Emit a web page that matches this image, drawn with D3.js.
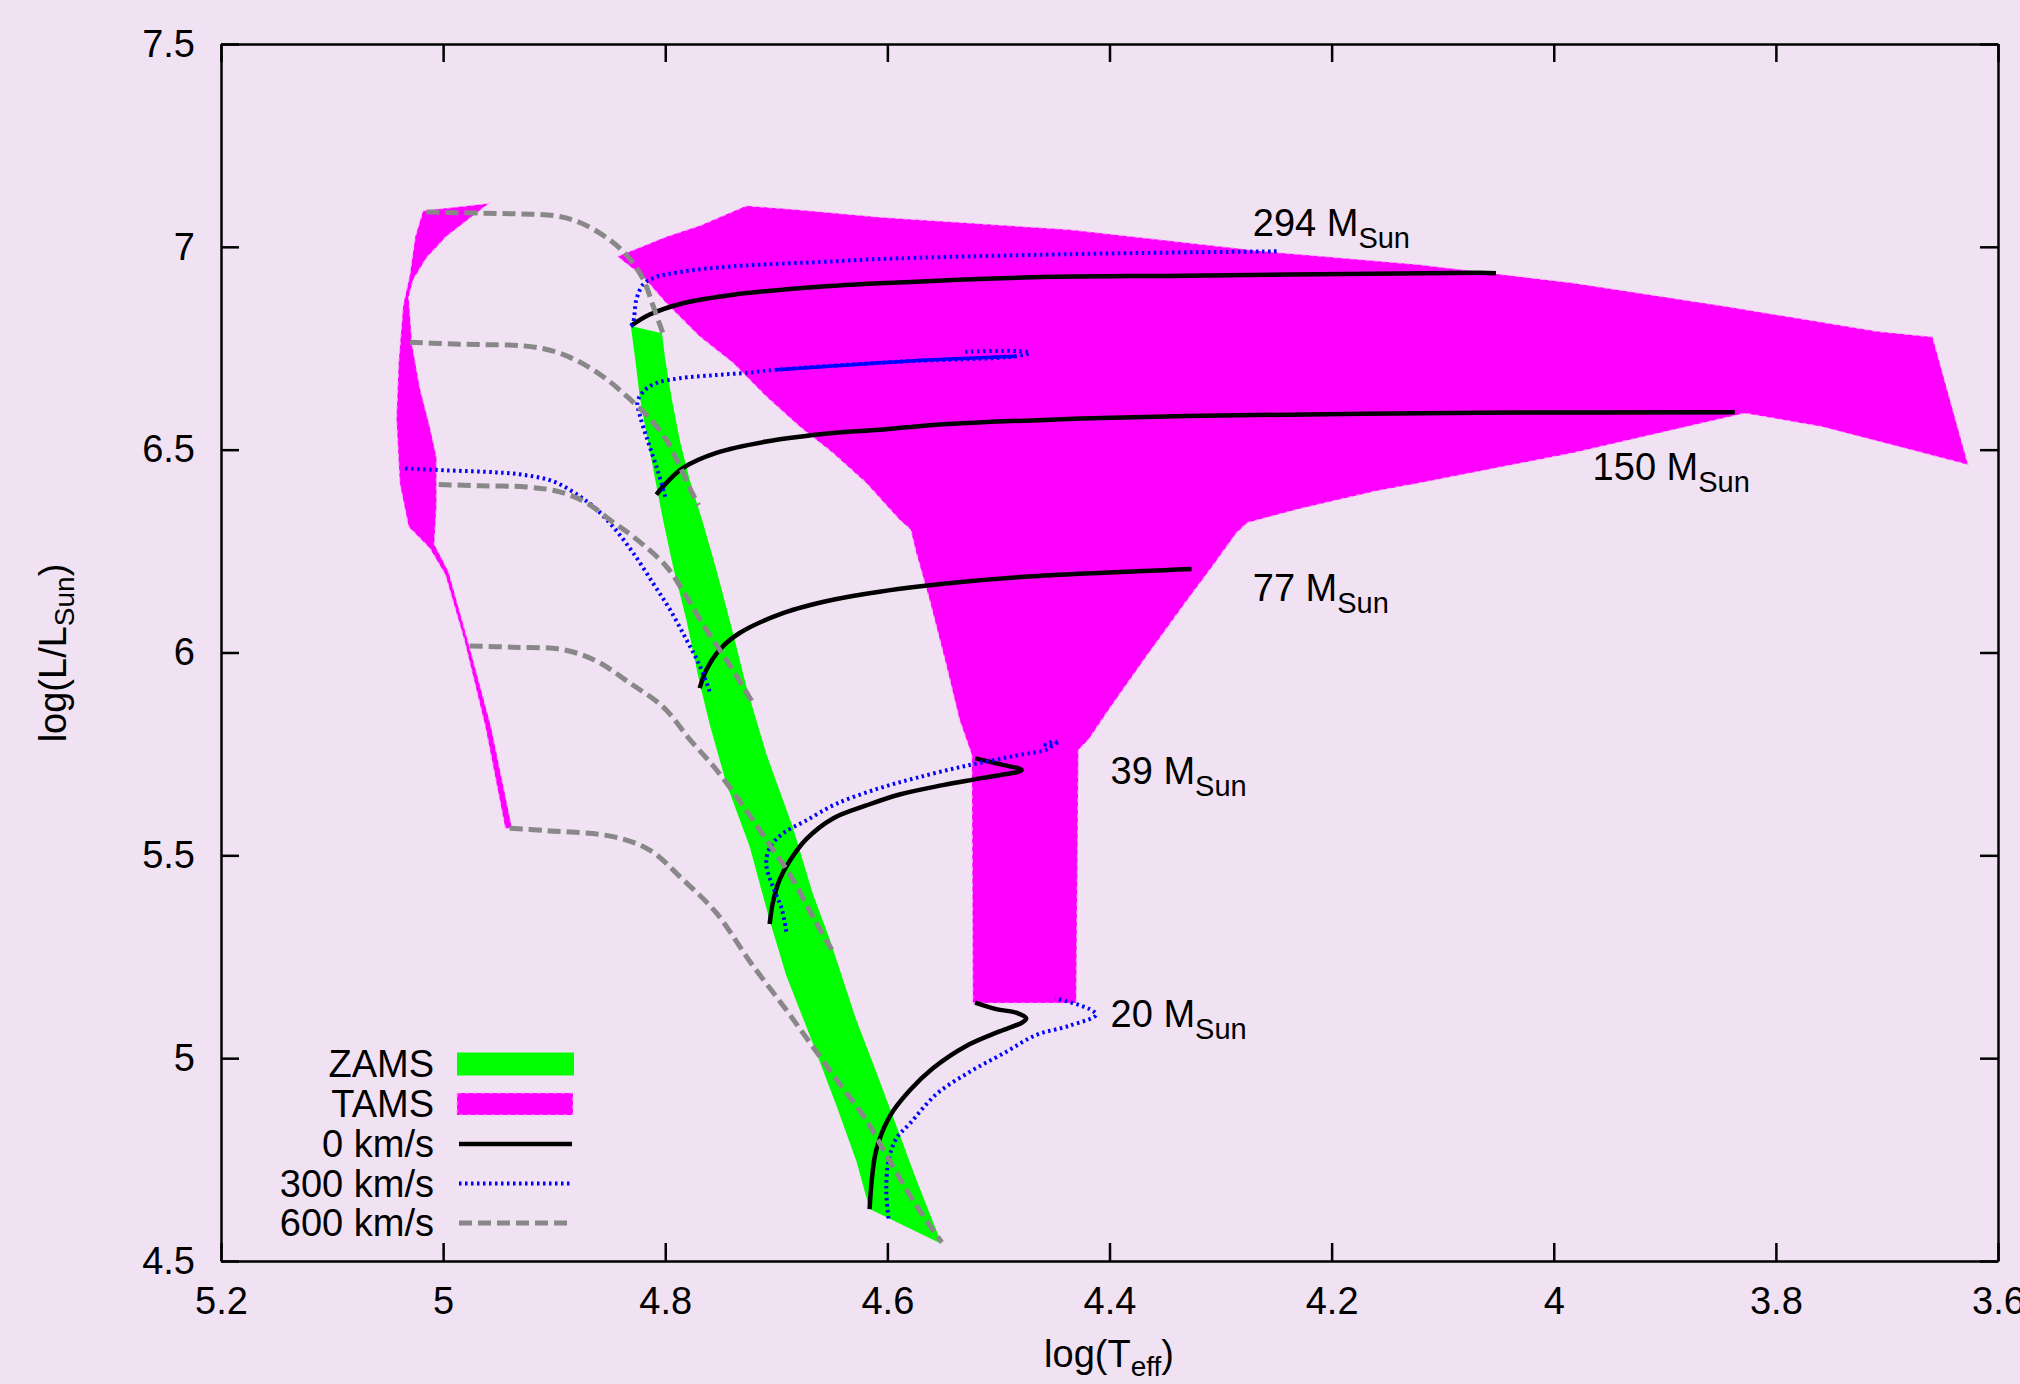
<!DOCTYPE html>
<html>
<head>
<meta charset="utf-8">
<script src="https://cdn.jsdelivr.net/npm/d3@7/dist/d3.min.js"></script>
<style>
body { margin: 0; background: #f0e2f2; }
svg { display: block; font-family: "Liberation Sans", Arial, Helvetica, sans-serif; }
</style>
</head>
<body>
<div id="hrd"></div>
<script>

// ---- data: [log Teff, log L/Lsun] ----
var xTicks = [5.2, 5.0, 4.8, 4.6, 4.4, 4.2, 4.0, 3.8, 3.6]
var yTicks = [4.5, 5.0, 5.5, 6.0, 6.5, 7.0, 7.5]

// ZAMS band: non-rotating edge and 600 km/s edge (top -> bottom)
var zamsSlow = [[4.831,6.805],[4.827,6.722],[4.823,6.631],[4.817,6.541],[4.809,6.426],[4.802,6.327],[4.793,6.212],
  [4.781,6.081],[4.769,5.925],[4.760,5.823],[4.745,5.677],[4.724,5.522],[4.706,5.340],[4.691,5.203],[4.670,5.057],
  [4.646,4.884],[4.628,4.747],[4.616,4.628]]
var zamsFast = [[4.803,6.787],[4.800,6.722],[4.794,6.623],[4.787,6.524],[4.778,6.426],[4.766,6.319],[4.754,6.204],
  [4.739,6.048],[4.727,5.916],[4.709,5.750],[4.685,5.568],[4.667,5.404],[4.652,5.294],[4.628,5.094],[4.610,4.966],
  [4.595,4.856],[4.574,4.701],[4.551,4.542]]

// TAMS regions (outlines)
var tamsMain = [[4.843,6.976],[4.828,6.993],[4.799,7.025],[4.769,7.052],[4.727,7.101],[4.679,7.091],[4.607,7.073],
  [4.435,7.042],[4.262,6.989],[4.121,6.956],[3.983,6.911],[3.845,6.853],[3.708,6.791],[3.659,6.778],[3.627,6.463],
  [3.673,6.496],[3.759,6.557],[3.828,6.590],[3.880,6.557],[3.983,6.492],[4.121,6.418],[4.159,6.399],[4.228,6.355],
  [4.276,6.320],[4.286,6.294],[4.307,6.214],[4.331,6.126],[4.366,5.994],[4.400,5.862],[4.419,5.785],[4.428,5.760],
  [4.430,5.136],[4.523,5.136],[4.524,5.748],[4.535,5.834],[4.547,5.970],[4.562,6.130],[4.574,6.246],[4.579,6.303],
  [4.589,6.327],[4.619,6.418],[4.649,6.492],[4.679,6.557],[4.709,6.631],[4.739,6.714],[4.769,6.779],[4.799,6.861],
  [4.820,6.927]]
var tamsFast = [[5.018,7.089],[4.959,7.107],[4.979,7.064],[4.997,7.026],[5.015,6.973],[5.027,6.919],[5.031,6.877],
  [5.028,6.759],[5.021,6.652],[5.012,6.556],[5.006,6.481],[5.006,6.363],[5.008,6.267],[4.995,6.198],[4.976,6.011],
  [4.957,5.818],[4.938,5.567],[4.944,5.567],[4.962,5.818],[4.981,6.032],[4.998,6.192],[5.012,6.257],[5.031,6.310],
  [5.039,6.417],[5.042,6.577],[5.040,6.716],[5.036,6.855],[5.030,6.930],[5.025,7.026]]

// evolutionary tracks, 0 km/s
var v0_294 = [[4.831,6.805],[4.814,6.833],[4.784,6.861],[4.739,6.882],[4.679,6.898],[4.607,6.910],[4.454,6.926],
  [4.331,6.929],[4.067,6.936],[4.052,6.935]]
var v0_150 = [[4.808,6.389],[4.799,6.418],[4.784,6.455],[4.754,6.492],[4.709,6.520],[4.649,6.541],[4.607,6.549],
  [4.559,6.561],[4.454,6.574],[4.331,6.583],[4.067,6.591],[3.837,6.592]]
var v0_77 = [[4.769,5.912],[4.763,5.957],[4.751,6.007],[4.733,6.048],[4.694,6.097],[4.649,6.130],[4.607,6.150],
  [4.529,6.175],[4.469,6.188],[4.326,6.206]]
var v0_39 = [[4.706,5.331],[4.703,5.385],[4.697,5.440],[4.688,5.486],[4.673,5.540],[4.649,5.591],[4.619,5.623],
  [4.589,5.650],[4.550,5.673],[4.514,5.691],[4.479,5.710],[4.499,5.725],[4.521,5.739]]
var v0_20 = [[4.616,4.628],[4.614,4.701],[4.610,4.774],[4.598,4.856],[4.580,4.920],[4.559,4.975],[4.529,5.030],
  [4.499,5.066],[4.478,5.089],[4.475,5.098],[4.484,5.112],[4.502,5.121],[4.521,5.137]]

// 300 km/s
var v300_294 = [[4.831,6.805],[4.829,6.812],[4.826,6.870],[4.820,6.907],[4.811,6.923],[4.784,6.939],[4.739,6.952],
  [4.649,6.964],[4.607,6.970],[4.435,6.982],[4.247,6.989]]
var v300_150 = [[4.800,6.384],[4.807,6.450],[4.816,6.524],[4.823,6.586],[4.825,6.618],[4.818,6.648],[4.807,6.665],
  [4.787,6.676],[4.754,6.684],[4.724,6.690],[4.700,6.697],[4.589,6.717],[4.484,6.730],[4.472,6.739],[4.481,6.743],
  [4.533,6.741]]
var v300_77 = [[4.760,5.904],[4.769,5.968],[4.781,6.032],[4.796,6.107],[4.811,6.171],[4.829,6.246],[4.847,6.310],
  [4.862,6.353],[4.877,6.385],[4.901,6.422],[4.928,6.438],[4.952,6.444],[4.997,6.449],[5.037,6.454]]
var v300_39 = [[4.691,5.312],[4.695,5.367],[4.703,5.422],[4.709,5.477],[4.706,5.518],[4.694,5.554],[4.673,5.586],
  [4.646,5.627],[4.610,5.663],[4.574,5.691],[4.529,5.721],[4.484,5.746],[4.454,5.764],[4.449,5.782],[4.458,5.772],
  [4.446,5.778]]
var v300_20 = [[4.599,4.605],[4.601,4.674],[4.599,4.747],[4.592,4.802],[4.580,4.838],[4.556,4.911],[4.526,4.966],
  [4.496,5.011],[4.466,5.057],[4.436,5.080],[4.412,5.107],[4.418,5.121],[4.449,5.148]]

// 600 km/s
var v600_294 = [[5.015,7.086],[4.967,7.083],[4.931,7.081],[4.898,7.076],[4.877,7.060],[4.853,7.023],[4.835,6.980],
  [4.820,6.921],[4.811,6.855],[4.802,6.786]]
var v600_150 = [[5.030,6.765],[4.997,6.761],[4.967,6.759],[4.928,6.756],[4.901,6.743],[4.877,6.716],[4.853,6.674],
  [4.832,6.625],[4.814,6.577],[4.799,6.524],[4.787,6.460],[4.778,6.406],[4.770,6.363]]
var v600_77 = [[5.004,6.414],[4.967,6.411],[4.925,6.408],[4.895,6.396],[4.871,6.369],[4.847,6.321],[4.829,6.286],
  [4.799,6.212],[4.781,6.138],[4.763,6.056],[4.745,5.982],[4.730,5.916],[4.721,5.875]]
var v600_39 = [[4.976,6.016],[4.937,6.013],[4.892,6.007],[4.862,5.979],[4.832,5.925],[4.802,5.866],[4.778,5.786],
  [4.754,5.711],[4.730,5.622],[4.706,5.526],[4.685,5.440],[4.667,5.348],[4.650,5.267]]
var v600_20 = [[4.940,5.567],[4.907,5.561],[4.847,5.546],[4.814,5.513],[4.784,5.440],[4.754,5.358],[4.724,5.239],
  [4.694,5.130],[4.670,5.039],[4.646,4.948],[4.619,4.847],[4.598,4.747],[4.574,4.637],[4.551,4.546]]

// mass labels
var massNames = ["294", "150", "77", "39", "20"]
var massT = [4.271, 3.965, 4.271, 4.399, 4.399]
var massL = [7.026, 6.426, 6.126, 5.676, 5.076]

var legendNames = ["ZAMS", "TAMS", "0 km/s", "300 km/s", "600 km/s"]

// ---- layout ----
var margin = {top: 44, right: 22, bottom: 123, left: 221}
var width = 2020 - margin.left - margin.right
var height = 1384 - margin.top - margin.bottom

var svg = d3.select("#hrd").append("svg")
    .attr("width", 2020)
    .attr("height", 1384)
    .style("background-color", "#f0e2f2")

var g = svg.append("g")
    .attr("transform", "translate(" + margin.left + "," + margin.top + ")")

var x = d3.scaleLinear().domain([5.2, 3.6]).range([0, width])
var y = d3.scaleLinear().domain([4.5, 7.5]).range([height, 0])

var line = d3.line().x(d => x(d[0])).y(d => y(d[1])).curve(d3.curveCatmullRom.alpha(0.5))
var poly = d3.line().x(d => x(d[0])).y(d => y(d[1])).curve(d3.curveLinearClosed)

var magenta = "#ff00ff", green = "#00ff00"
var style0 = {color: "#000000", w: 4.5, dash: null}
var style300 = {color: "#0000ff", w: 4, dash: "2.5,3.5"}
var style600 = {color: "#888888", w: 5, dash: "13,6"}

// filled bands
g.append("path").attr("d", poly(zamsSlow.concat(zamsFast.slice().reverse())))
    .attr("fill", green)
g.selectAll(".tams").data([tamsMain, tamsFast]).enter().append("path")
    .attr("class", "tams")
    .attr("d", d => poly(d))
    .attr("fill", magenta)
    .attr("stroke", "#ffa8ff").attr("stroke-width", 1.2).attr("stroke-dasharray", "4,4")

function drawTracks(tracks, st) {
  g.append("g").selectAll("path").data(tracks).enter().append("path")
      .attr("d", d => line(d))
      .attr("fill", "none")
      .attr("stroke", st.color)
      .attr("stroke-width", st.w)
      .attr("stroke-dasharray", st.dash)
      .attr("stroke-linejoin", "round")
}

drawTracks([v0_294, v0_150, v0_77, v0_39, v0_20], style0)
drawTracks([v300_294, v300_150, v300_77, v300_39, v300_20], style300)
// dense overlapping dots near the end of the 150 Msun rotating track
g.append("path").attr("d", line(v300_150.slice(10, 13)))
    .attr("fill", "none").attr("stroke", "#0000ff").attr("stroke-width", 3.5)
drawTracks([v600_294, v600_150, v600_77, v600_39, v600_20], style600)

// ---- axes (mirrored, ticks inward) ----
var fmt = d3.format("~g")
function styleAxis(sel) {
  sel.select(".domain").attr("stroke-width", 2.5)
  sel.selectAll(".tick line").attr("stroke-width", 2.5)
  sel.selectAll("text").attr("font-size", "38px").attr("fill", "#000")
    .attr("font-family", "Liberation Sans, Arial, sans-serif")
}
g.append("g").attr("transform", "translate(0," + height + ")")
    .call(d3.axisBottom(x).tickValues(xTicks).tickFormat(fmt).tickSize(-18).tickSizeOuter(0).tickPadding(26))
    .call(styleAxis)
g.append("g")
    .call(d3.axisTop(x).tickValues(xTicks).tickFormat("").tickSize(-18).tickSizeOuter(0))
    .call(styleAxis)
g.append("g")
    .call(d3.axisLeft(y).tickValues(yTicks).tickFormat(fmt).tickSize(-18).tickSizeOuter(0).tickPadding(26))
    .call(styleAxis)
g.append("g").attr("transform", "translate(" + width + ",0)")
    .call(d3.axisRight(y).tickValues(yTicks).tickFormat("").tickSize(-18).tickSizeOuter(0))
    .call(styleAxis)

// axis titles
var xt = svg.append("text").attr("x", 1109).attr("y", 1367)
    .attr("text-anchor", "middle").attr("font-size", "38px")
xt.append("tspan").text("log(T")
xt.append("tspan").attr("dy", 9).attr("font-size", "28px").text("eff")
xt.append("tspan").attr("dy", -9).text(")")

var yt = svg.append("text").attr("transform", "translate(66,653) rotate(-90)")
    .attr("text-anchor", "middle").attr("font-size", "38px")
yt.append("tspan").text("log(L/L")
yt.append("tspan").attr("dy", 8).attr("font-size", "28px").text("Sun")
yt.append("tspan").attr("dy", -8).text(")")

// mass labels
massNames.forEach(function(m, i) {
  var t = g.append("text").attr("x", x(massT[i])).attr("y", y(massL[i])).attr("font-size", "38px")
  t.append("tspan").text(m + " M")
  t.append("tspan").attr("dy", 12).attr("font-size", "29px").text("Sun")
})

// legend
var leg = svg.append("g")
var rowY = [1064, 1104, 1144, 1183.5, 1223]
legendNames.forEach(function(name, i) {
  leg.append("text").attr("x", 434).attr("y", rowY[i]).attr("dy", "0.35em")
      .attr("text-anchor", "end").attr("font-size", "38px").text(name)
})
leg.append("rect").attr("x", 457).attr("y", rowY[0] - 11.5).attr("width", 117).attr("height", 23).attr("fill", green)
leg.append("rect").attr("x", 457).attr("y", rowY[1] - 11).attr("width", 116).attr("height", 22).attr("fill", magenta)
    .attr("stroke", "#ffa8ff").attr("stroke-width", 1.2).attr("stroke-dasharray", "4,4")
;[style0, style300, style600].forEach(function(st, i) {
  leg.append("line").attr("x1", 459).attr("x2", 572).attr("y1", rowY[i + 2]).attr("y2", rowY[i + 2])
      .attr("stroke", st.color).attr("stroke-width", st.w).attr("stroke-dasharray", st.dash)
})

</script>
</body>
</html>
